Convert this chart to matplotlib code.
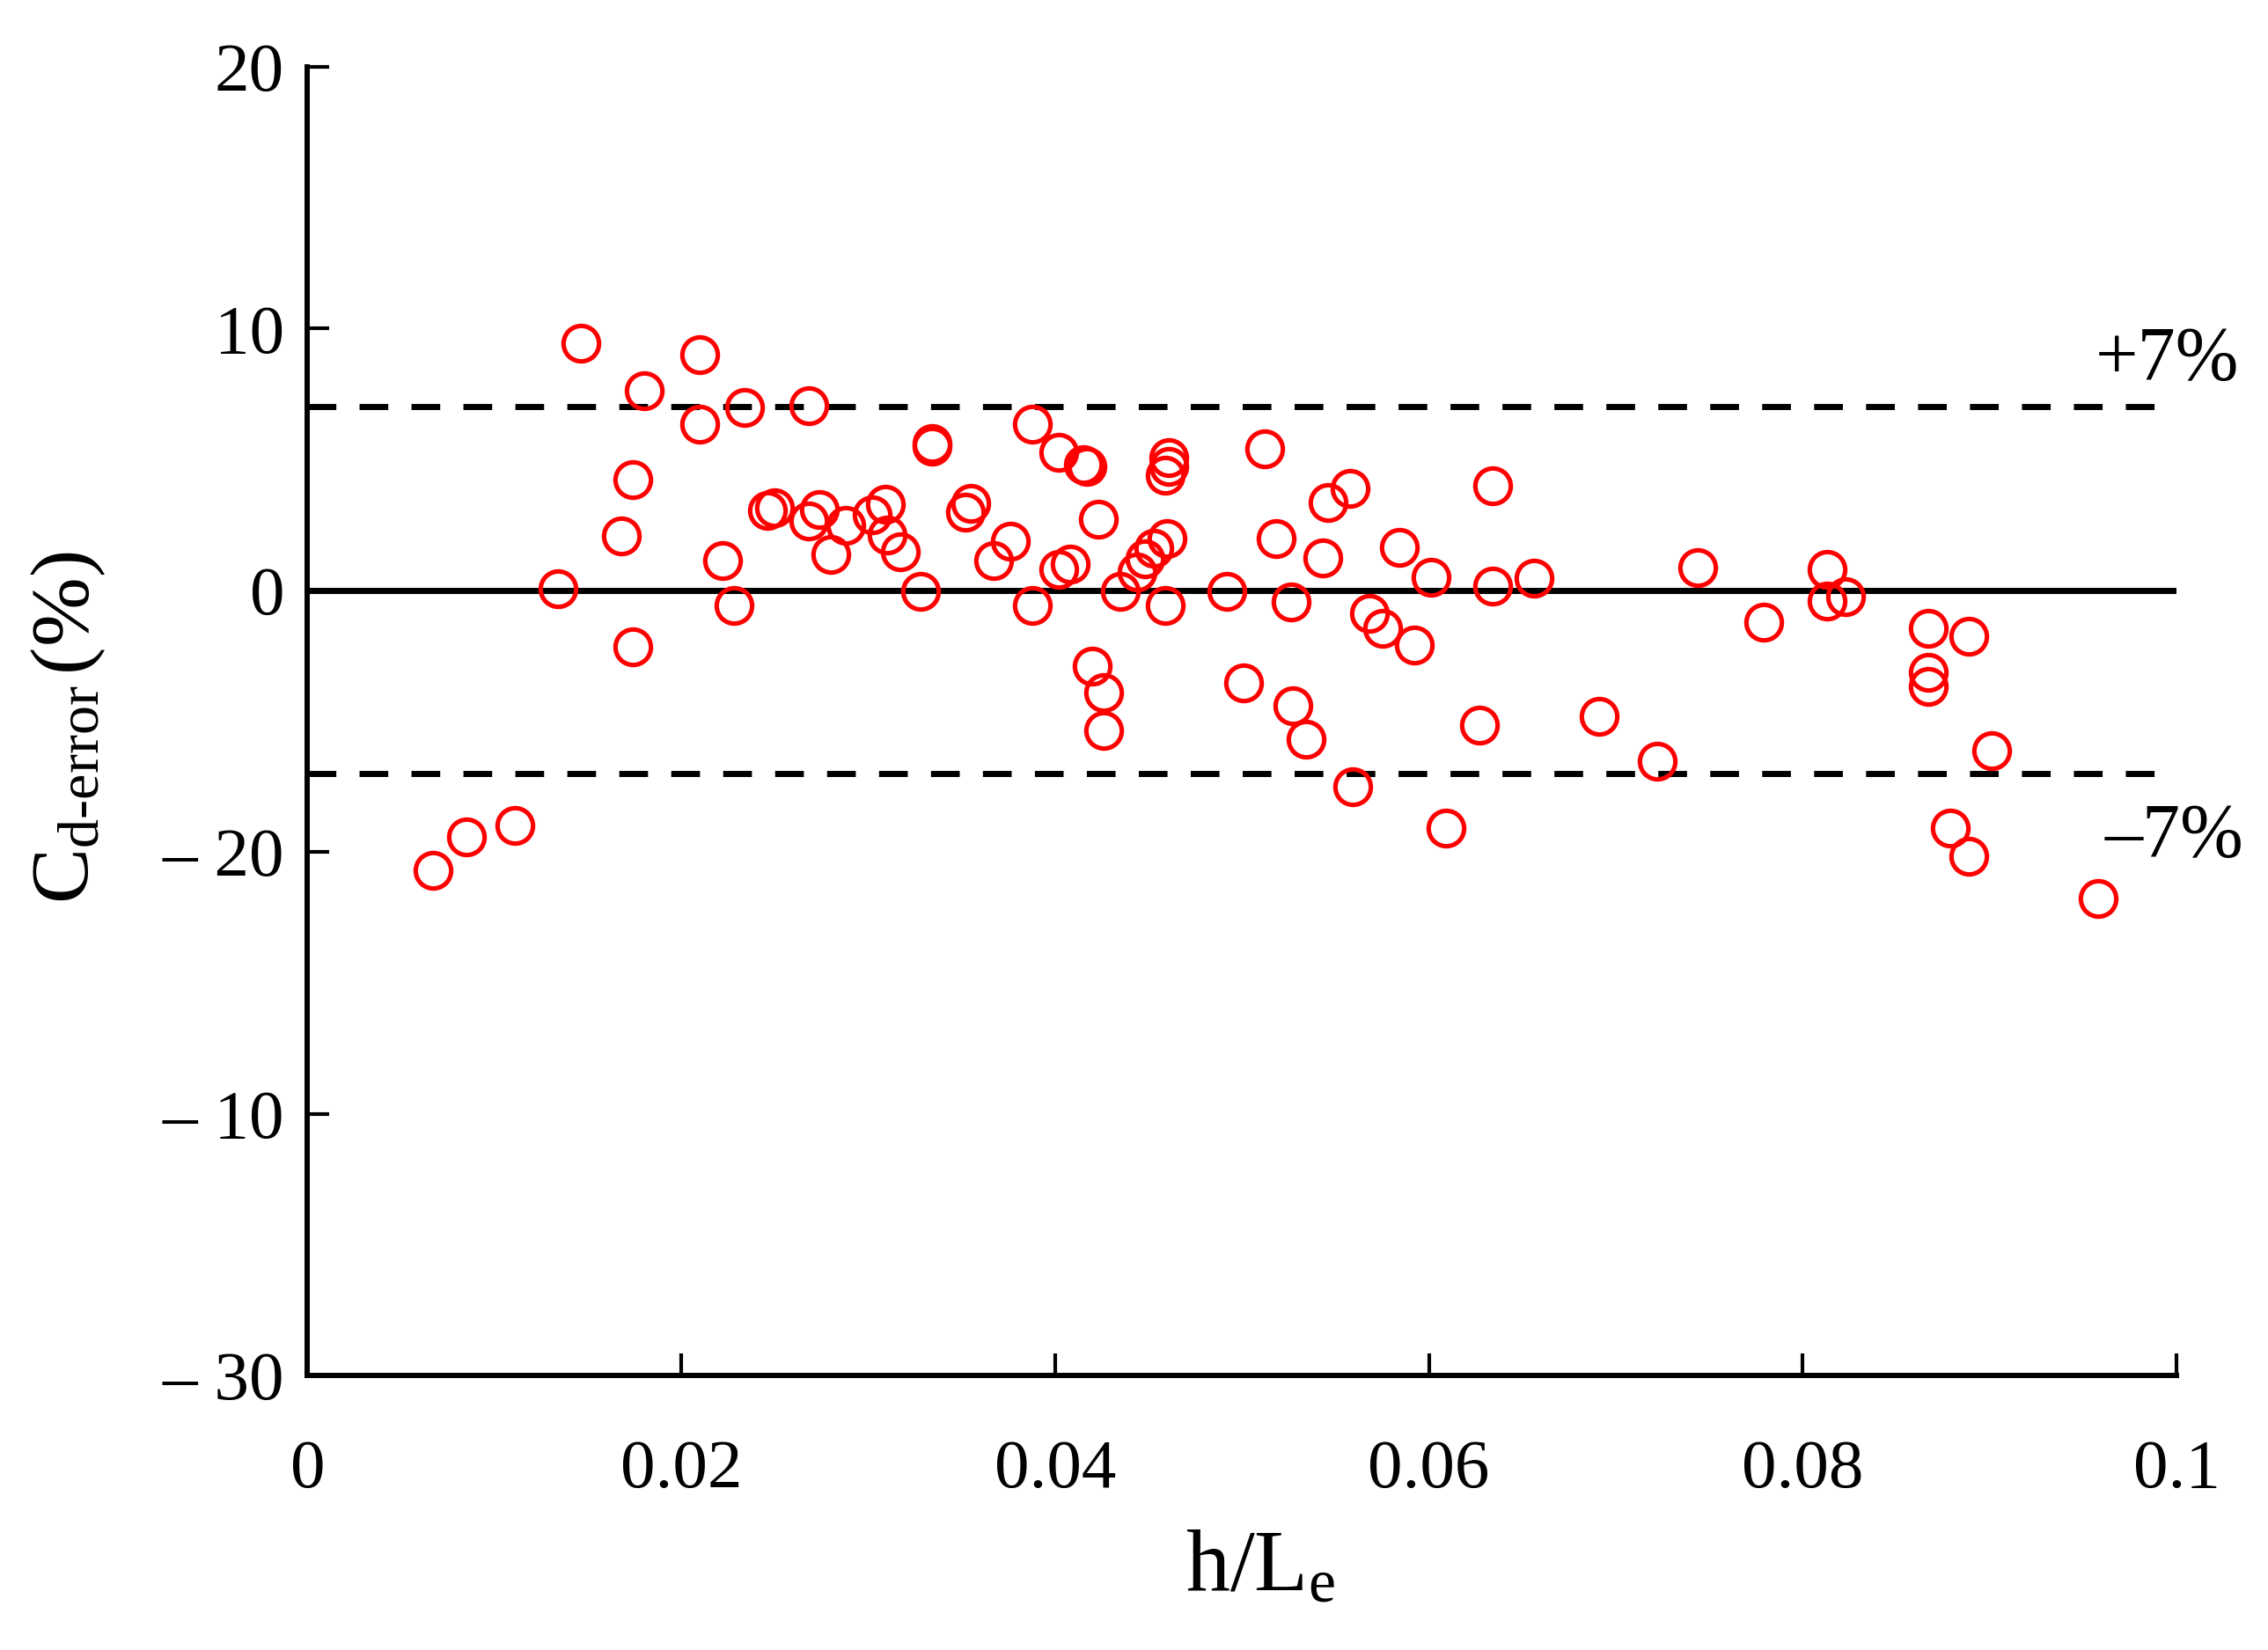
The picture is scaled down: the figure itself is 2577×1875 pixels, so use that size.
import numpy as np
import matplotlib
matplotlib.use('Agg')
import matplotlib.pyplot as plt

plt.rcParams['font.family'] = ['Liberation Serif', 'DejaVu Serif']
plt.rcParams['mathtext.fontset'] = 'custom'
plt.rcParams['mathtext.rm'] = 'Liberation Serif'
plt.rcParams['mathtext.it'] = 'Liberation Serif:italic'

# h/Le and Cd error (%)
h_le = [0.0146, 0.0210, 0.0180, 0.0234, 0.0268, 0.0210, 0.0334, 0.0334,
        0.0174, 0.0168, 0.0134, 0.0174, 0.0222, 0.0228, 0.0246, 0.0250,
        0.0268, 0.0274, 0.0288, 0.0280, 0.0302, 0.0309, 0.0310, 0.0317,
        0.0328, 0.0067, 0.0085, 0.0111,
        0.0352, 0.0355, 0.0388, 0.0402, 0.0415, 0.0417, 0.0461, 0.0461,
        0.0459, 0.0376, 0.0367, 0.0388, 0.0402, 0.0408, 0.0423, 0.0435,
        0.0444, 0.0448, 0.0453, 0.0460, 0.0459, 0.0420, 0.0426, 0.0426,
        0.0492, 0.0512, 0.0518, 0.0526, 0.0501, 0.0527, 0.0534, 0.0546,
        0.0558, 0.0543, 0.0584, 0.0601, 0.0568, 0.0575, 0.0592, 0.0559,
        0.0609, 0.0634, 0.0634, 0.0656, 0.0627,
        0.0691, 0.0722, 0.0744, 0.0779, 0.0813, 0.0813, 0.0823, 0.0867,
        0.0889, 0.0867, 0.0867, 0.0901, 0.0879, 0.0889, 0.0958]
cd_err = [9.43, 9.00, 7.61, 6.98, 7.05, 6.33, 5.62, 5.51,
          4.21, 2.08, 0.06, -2.16, 1.14, -0.59, 3.05, 3.16,
          2.66, 3.10, 2.49, 1.37, 2.88, 3.27, 2.10, 1.48,
          -0.03, -10.71, -9.43, -9.00,
          2.99, 3.32, 6.33, 5.28, 4.80, 4.72, 5.06, 4.74,
          4.40, 1.88, 1.14, -0.59, 0.80, 1.01, 2.72, -0.03,
          0.70, 1.20, 1.59, 1.98, -0.59, -2.90, -3.90, -5.37,
          -0.03, 5.40, 1.98, -0.44, -3.55, -4.40, -5.68, 3.36,
          3.89, 1.24, 1.65, 0.49, -0.90, -1.44, -2.08, -7.50,
          -9.07, 4.00, 0.15, 0.46, -5.14,
          -4.83, -6.53, 0.88, -1.23, 0.80, -0.40, -0.25, -1.44,
          -1.77, -3.13, -3.67, -6.14, -9.07, -10.15, -11.77]

limit = 7
xticks = [0, 0.02, 0.04, 0.06, 0.08, 0.1]
xticklabels = ['0', '0.02', '0.04', '0.06', '0.08', '0.1']
yticks = [20, 10, 0, -10, -20, -30]
yticklabels = ['20', '10', '0', '\u2013 20', '\u2013 10', '\u2013 30']

fig = plt.figure(figsize=(25.77, 18.75), dpi=100)
ax = fig.add_axes([0.1356, 0.1663, 0.8241, 0.7933])

ax.axhline(0, color='black', lw=5, zorder=1)
ax.axhline(limit, color='black', lw=5, dashes=(4.7, 3.8), zorder=1)
ax.axhline(-limit, color='black', lw=5, dashes=(4.7, 3.8), zorder=1)

ax.plot(h_le, cd_err, ls='none', marker='o', ms=29, mfc='none',
        mec='#ff0000', mew=3.7, zorder=3, clip_on=False)

ax.text(0.0995, limit + 1.06, '+7%', fontsize=62, ha='center', va='baseline')
ax.text(0.0999, -limit - 3.16, '\u20137%', fontsize=62, ha='center', va='baseline')

ax.set_xlim(0, 0.1)
ax.set_ylim(-30, 20)
ax.set_xticks(xticks)
ax.set_xticklabels(xticklabels)
ax.set_yticks(yticks)
ax.set_yticklabels(yticklabels)

for s in ['top', 'right']:
    ax.spines[s].set_visible(False)
for s in ['left', 'bottom']:
    ax.spines[s].set_linewidth(4.3)

ax.tick_params(axis='both', direction='in', length=18, width=3, labelsize=57)
ax.tick_params(axis='x', pad=52)
ax.tick_params(axis='y', pad=19)

ax.set_xlabel(r'h/L$_\mathrm{e}$', fontsize=72)
ax.xaxis.set_label_coords(0.51, -0.118)
ax.set_ylabel(r'$\mathrm{C}_{\mathrm{d\text{-}error}}\,\mathrm{(\%)}$', fontsize=68)
ax.yaxis.set_label_coords(-0.107, 0.495)

plt.savefig('out.png', dpi=100)
